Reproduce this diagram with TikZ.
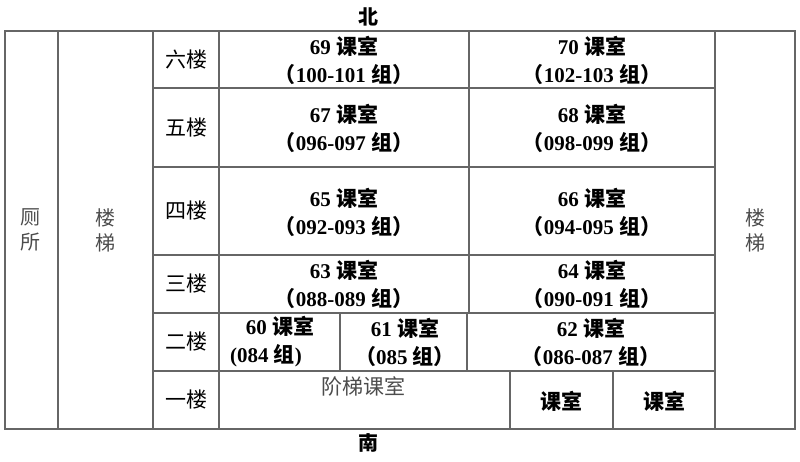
\documentclass[tikz,border=0pt]{standalone}
\usepackage{fontspec}
\setmainfont{Liberation Serif}
\newfontfamily\cjk{Noto Sans CJK SC}
\newcommand\zh[1]{{\cjk #1}}
\newcommand\roomtext[2]{\textbf{#1 \zh{课室}}\\\textbf{#2}}
\tikzset{
  grid/.style={draw=black!60, line width=1.3pt},
  room/.style={align=center, inner sep=0pt, font=\fontsize{21}{28}\selectfont},
  floor/.style={inner sep=0pt, font=\cjk\fontsize{21}{24}\selectfont},
  side/.style={align=center, inner sep=0pt, text=black!70, font=\cjk\fontsize{20}{25}\selectfont}
}
\begin{document}
\begin{tikzpicture}[x=1pt, y=-1pt]
  \useasboundingbox (0,0) rectangle (800,461);
  % frame and grid
  \draw[grid] (5,31) rectangle (795,429);
  \draw[grid] (58,31) -- (58,429);
  \draw[grid] (153,31) -- (153,429);
  \draw[grid] (219,31) -- (219,429);
  \draw[grid] (715,31) -- (715,429);
  \foreach \y in {88,167,255,313,371}
    \draw[grid] (153,\y) -- (715,\y);
  \draw[grid] (469,31) -- (469,313);
  \draw[grid] (340,313) -- (340,371);
  \draw[grid] (467,313) -- (467,371);
  \draw[grid] (510,371) -- (510,429);
  \draw[grid] (613,371) -- (613,429);

  \node[floor, font=\cjk\bfseries\fontsize{20}{24}\selectfont] (north) at (368,17) {北};
  \node[floor, font=\cjk\bfseries\fontsize{20}{24}\selectfont] (south) at (368,443) {南};

  \node[side] (wc) at (30,230) {厕\\所};
  \node[side] (stairL) at (105,230) {楼\\梯};
  \node[side] (stairR) at (755,230) {楼\\梯};

  \node[floor] (f6) at (186,59.5) {六楼};
  \node[floor] (f5) at (186,127.5) {五楼};
  \node[floor] (f4) at (186,211) {四楼};
  \node[floor] (f3) at (186,284) {三楼};
  \node[floor] (f2) at (186,342) {二楼};
  \node[floor] (f1) at (186,400) {一楼};

  \node[room] (r69) at (344,60) {\roomtext{69}{\zh{（}100-101 \zh{组）}}};
  \node[room] (r70) at (592,60) {\roomtext{70}{\zh{（}102-103 \zh{组）}}};
  \node[room] (r67) at (344,128) {\roomtext{67}{\zh{（}096-097 \zh{组）}}};
  \node[room] (r68) at (592,128) {\roomtext{68}{\zh{（}098-099 \zh{组）}}};
  \node[room] (r65) at (344,212) {\roomtext{65}{\zh{（}092-093 \zh{组）}}};
  \node[room] (r66) at (592,212) {\roomtext{66}{\zh{（}094-095 \zh{组）}}};
  \node[room] (r63) at (344,284) {\roomtext{63}{\zh{（}088-089 \zh{组）}}};
  \node[room] (r64) at (592,284) {\roomtext{64}{\zh{（}090-091 \zh{组）}}};
  \node[room] (r60) at (280,342) {\roomtext{60}{(084 \zh{组})\hspace*{28pt}}};
  \node[room] (r61) at (405,342) {\roomtext{61}{\zh{（}085 \zh{组）}}};
  \node[room] (r62) at (591,342) {\roomtext{62}{\zh{（}086-087 \zh{组）}}};

  \node[floor, text=black!70] (hall) at (363,386) {阶梯课室};
  \node[room] (r1a) at (561,401) {\textbf{\zh{课室}}};
  \node[room] (r1b) at (664,401) {\textbf{\zh{课室}}};
\end{tikzpicture}
\end{document}
